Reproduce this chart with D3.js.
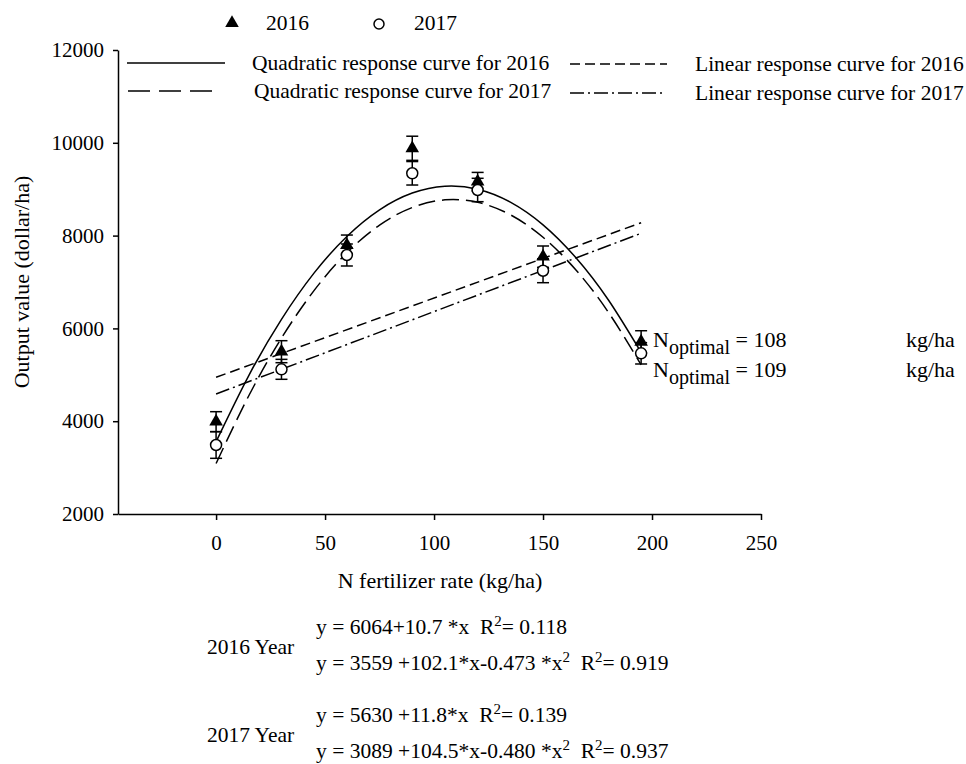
<!DOCTYPE html>
<html>
<head>
<meta charset="utf-8">
<script src="https://cdn.jsdelivr.net/npm/d3@7"></script>
<style>
  body { margin: 0; background: #fff; }
  svg { display: block; }
  text { font-family: "Liberation Serif", "DejaVu Serif", serif; fill: #000; }
</style>
</head>
<body>
<div id="chart"></div>
<script>
// N rates with measured output value (dollar/ha) and error bars
const N_RATE = [0, 30, 60, 90, 120, 150, 195];
const OUT_2016 = [3990, 5498, 7797, 9882, 9162, 7546, 5713];
const ERR_2016 = [215, 237, 215, 260, 200, 230, 237];
const OUT_2017 = [3487, 5118, 7582, 9343, 8983, 7243, 5463];
const ERR_2017 = [287, 215, 237, 253, 252, 258, 230];

// response curves
const CURVE_X = [0, 15, 30, 45, 60, 75, 90, 105, 120, 135, 150, 165, 180, 195];
const QUAD_2016 = [3559, 4984, 6196, 7196, 7982, 8556, 8917, 9065, 9000, 8722, 8232, 7528, 6612, 5483];
const QUAD_2017 = [3089, 4549, 5792, 6820, 7631, 8227, 8606, 8770, 8717, 8449, 7964, 7264, 6347, 5215];
const LIN_X = [0, 195];
const LIN_2016 = [4946, 8278];
const LIN_2017 = [4586, 8050];

const X_TICKS = [0, 50, 100, 150, 200, 250];
const Y_TICKS = [2000, 4000, 6000, 8000, 10000, 12000];

const CURVE_NAMES = ["Quadratic response curve for 2016", "Quadratic response curve for 2017",
                     "Linear response curve for 2016", "Linear response curve for 2017"];
const DASHES = [null, "17,7", "10,5", "14,4,2,4"];
const N_OPT = ["108", "109"];

const EQ_YEARS = ["2016 Year", "2017 Year"];
const EQ_LINES = [
    ["y = 6064+10.7 *x  R^2= 0.118", "y = 3559 +102.1*x-0.473 *x^2  R^2= 0.919"],
    ["y = 5630 +11.8*x  R^2= 0.139", "y = 3089 +104.5*x-0.480 *x^2  R^2= 0.937"]
];

const W = 966, H = 764;
const FONT = "Liberation Serif";
const svg = d3.select("#chart").append("svg")
    .attr("width", W)
    .attr("height", H);

const x = d3.scaleLinear().domain([-45, 250]).range([118, 761]);
const y = d3.scaleLinear().domain([2000, 12000]).range([514, 50]);

// axes
const xAxis = svg.append("g")
    .attr("transform", "translate(0," + y(2000) + ")")
    .call(d3.axisBottom(x).tickValues(X_TICKS).tickFormat(d3.format("d"))
        .tickSize(6).tickSizeOuter(0).tickPadding(15));
const yAxis = svg.append("g")
    .attr("transform", "translate(" + x(-45) + ",0)")
    .call(d3.axisLeft(y).tickValues(Y_TICKS).tickFormat(d3.format("d"))
        .tickSize(5).tickSizeOuter(0).tickPadding(9));
[xAxis, yAxis].forEach(g => {
    g.attr("font-family", FONT).attr("font-size", 21);
    g.selectAll("path,line").attr("stroke", "#000").attr("stroke-width", 1.5);
    g.selectAll("text").style("font-family", FONT).style("font-size", "21px");
});

svg.append("text")
    .attr("x", 440).attr("y", 588)
    .attr("text-anchor", "middle")
    .style("font-size", "22px")
    .text("N fertilizer rate (kg/ha)");
svg.append("text")
    .attr("transform", "translate(29,282) rotate(-90)")
    .attr("text-anchor", "middle")
    .style("font-size", "22px")
    .text("Output value (dollar/ha)");

// curves
const line = d3.line().x(d => x(d[0])).y(d => y(d[1]));
const curves = [
    [CURVE_X, QUAD_2016, d3.curveNatural],
    [CURVE_X, QUAD_2017, d3.curveNatural],
    [LIN_X, LIN_2016, d3.curveLinear],
    [LIN_X, LIN_2017, d3.curveLinear]
];
curves.forEach((c, i) => {
    svg.append("path")
        .datum(c[0].map((v, k) => [v, c[1][k]]))
        .attr("fill", "none")
        .attr("stroke", "#000")
        .attr("stroke-width", 1.5)
        .attr("stroke-dasharray", DASHES[i])
        .attr("d", line.curve(c[2]));
});

// error bars
function errorBars(vals, errs) {
    const g = svg.append("g").attr("stroke", "#000").attr("stroke-width", 1.5);
    N_RATE.forEach((n, i) => {
        const cx = x(n), top = y(vals[i] + errs[i]), bot = y(vals[i] - errs[i]);
        g.append("line").attr("x1", cx).attr("x2", cx).attr("y1", top).attr("y2", bot);
        g.append("line").attr("x1", cx - 6).attr("x2", cx + 6).attr("y1", top).attr("y2", top);
        g.append("line").attr("x1", cx - 6).attr("x2", cx + 6).attr("y1", bot).attr("y2", bot);
    });
}
errorBars(OUT_2016, ERR_2016);
errorBars(OUT_2017, ERR_2017);

const tri = d3.symbol().type(d3.symbolTriangle).size(80);
svg.append("g").selectAll("path")
    .data(N_RATE)
    .join("path")
    .attr("transform", (d, i) => "translate(" + x(d) + "," + y(OUT_2016[i]) + ")")
    .attr("d", tri)
    .attr("fill", "#000");
svg.append("g").selectAll("circle")
    .data(N_RATE)
    .join("circle")
    .attr("cx", d => x(d))
    .attr("cy", (d, i) => y(OUT_2017[i]))
    .attr("r", 5.5)
    .attr("fill", "#fff")
    .attr("stroke", "#000")
    .attr("stroke-width", 1.5);

// N optimal labels
N_OPT.forEach((v, i) => {
    const by = 347 + i * 30;
    const t = svg.append("text")
        .attr("x", 653).attr("y", by)
        .style("font-size", "22px")
        .style("white-space", "pre");
    t.append("tspan").text("N");
    t.append("tspan").attr("dy", 7).style("font-size", "20px").text("optimal");
    t.append("tspan").attr("dy", -7).text(" = " + v);
    svg.append("text")
        .attr("x", 906).attr("y", by)
        .style("font-size", "22px")
        .text("kg/ha");
});

// legend: symbols
svg.append("path")
    .attr("transform", "translate(232,23)")
    .attr("d", tri).attr("fill", "#000");
svg.append("text").attr("x", 266).attr("y", 30).style("font-size", "21.5px").text("2016");
svg.append("circle")
    .attr("cx", 379).attr("cy", 24).attr("r", 5)
    .attr("fill", "#fff").attr("stroke", "#000").attr("stroke-width", 1.5);
svg.append("text").attr("x", 414).attr("y", 30).style("font-size", "21.5px").text("2017");

// legend: curves
const LEG_POS = [[127, 225, 252, 63], [128, 218, 254, 91], [570, 667, 695, 64], [570, 662, 695, 93]];
CURVE_NAMES.forEach((name, i) => {
    const p = LEG_POS[i];
    svg.append("line")
        .attr("x1", p[0]).attr("x2", p[1]).attr("y1", p[3]).attr("y2", p[3])
        .attr("stroke", "#000").attr("stroke-width", 1.5)
        .attr("stroke-dasharray", i === 1 ? "22,9" : DASHES[i]);
    svg.append("text")
        .attr("x", p[2]).attr("y", p[3] + 7)
        .style("font-size", "21.5px")
        .text(name);
});

// regression equations
function eqText(str, tx, ty) {
    const t = svg.append("text").attr("x", tx).attr("y", ty)
        .style("font-size", "21.5px").style("white-space", "pre");
    const parts = str.split("^2");
    parts.forEach((s, k) => {
        t.append("tspan").attr("dy", k === 0 ? 0 : 8).text(s);
        if (k < parts.length - 1) t.append("tspan").attr("dy", -8).style("font-size", "15px").text("2");
    });
}
EQ_YEARS.forEach((yr, i) => {
    const base = 634 + i * 88;
    svg.append("text").attr("x", 207).attr("y", base + 20).style("font-size", "21.5px").text(yr);
    eqText(EQ_LINES[i][0], 316, base);
    eqText(EQ_LINES[i][1], 316, base + 36);
});
</script>
</body>
</html>
